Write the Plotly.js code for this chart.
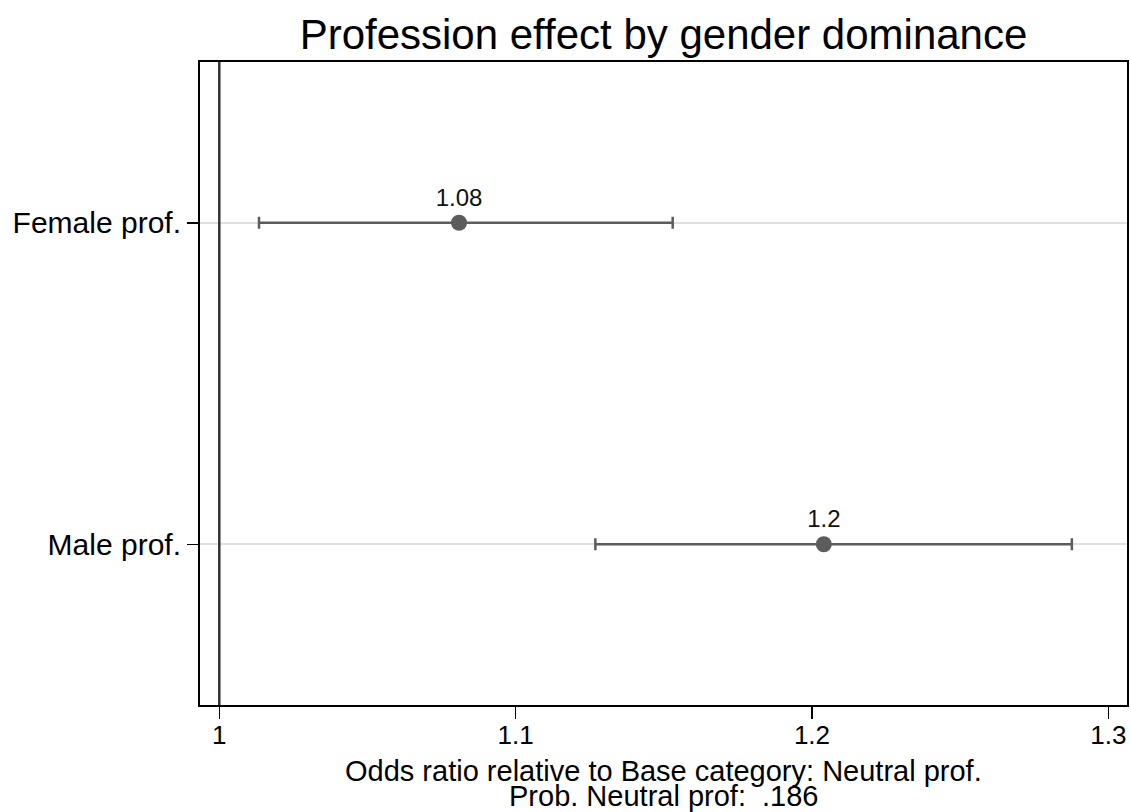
<!DOCTYPE html>
<html>
<head>
<meta charset="utf-8">
<script src="https://cdn.plot.ly/plotly-3.0.1.min.js"></script>
<style>html,body{margin:0;padding:0;background:#fff;}#chart{width:1131px;height:812px;}</style>
</head>
<body>
<div id="chart"></div>
<script>
// Data
const categories = ["Female prof.", "Male prof."];
const categoryPos = [1, 2];
const estimates = [1.0809, 1.2040];
const ciLower = [1.0134, 1.1269];
const ciUpper = [1.1530, 1.2877];
const pointLabels = ["1.08", "1.2"];
const xTickVals = [1, 1.1, 1.2, 1.3];
const xTickText = ["1", "1.1", "1.2", "1.3"];
const axisTitleLines = ["Odds ratio relative to Base category: Neutral prof.", "Prob. Neutral prof:  .186"];
const chartTitle = "Profession effect by gender dominance";

const FONT = "'Liberation Sans', Arial, Helvetica, sans-serif";
const markColor = "#5c5c5c";

const trace = {
  type: "scatter",
  mode: "markers+text",
  x: estimates,
  y: categoryPos,
  text: pointLabels,
  textposition: "top center",
  textfont: {family: FONT, size: 24, color: "#111"},
  marker: {color: markColor, size: 16},
  error_x: {
    type: "data",
    symmetric: false,
    array: estimates.map((e, i) => ciUpper[i] - e),
    arrayminus: estimates.map((e, i) => e - ciLower[i]),
    color: markColor,
    thickness: 2.5,
    width: 6
  },
  hoverinfo: "x+y",
  showlegend: false
};

const layout = {
  width: 1131,
  height: 812,
  margin: {l: 200, r: 4, t: 62, b: 107},
  paper_bgcolor: "#fff",
  plot_bgcolor: "#fff",
  font: {family: FONT, color: "#000"},
  title: {
    text: chartTitle,
    font: {family: FONT, size: 42, color: "#000"},
    x: 0.5, xref: "paper",
    y: 1 - 34 / 812, yref: "container", yanchor: "middle"
  },
  xaxis: {
    range: [0.99349, 1.30631],
    tickvals: xTickVals,
    ticktext: xTickText,
    ticks: "outside",
    ticklen: 12,
    tickwidth: 1.5,
    tickcolor: "#000",
    ticklabelstandoff: -6,
    tickfont: {family: FONT, size: 26, color: "#000"},
    showgrid: false,
    zeroline: false,
    showline: true,
    linecolor: "#000",
    linewidth: 2,
    mirror: true
  },
  yaxis: {
    range: [2.5, 0.5],
    tickvals: categoryPos,
    ticktext: categories,
    ticks: "outside",
    ticklen: 11,
    tickwidth: 1.5,
    tickcolor: "#000",
    tickfont: {family: FONT, size: 30, color: "#000"},
    showgrid: true,
    gridcolor: "#e0e0e0",
    gridwidth: 2,
    zeroline: false,
    showline: true,
    linecolor: "#000",
    linewidth: 2,
    mirror: true
  },
  shapes: [{
    type: "line", xref: "x", yref: "paper",
    x0: 1, x1: 1, y0: 0, y1: 1,
    line: {color: "#333", width: 2.5},
    layer: "above"
  }],
  annotations: axisTitleLines.map((t, i) => ({
    text: t,
    xref: "paper", yref: "paper",
    x: 0.5, y: i === 0 ? -(771 - 705) / 643 : -(796 - 705) / 643,
    xanchor: "center", yanchor: "middle",
    showarrow: false,
    font: {family: FONT, size: 29, color: "#000"}
  }))
};

Plotly.newPlot("chart", [trace], layout, {displayModeBar: false, staticPlot: true});
</script>
</body>
</html>
